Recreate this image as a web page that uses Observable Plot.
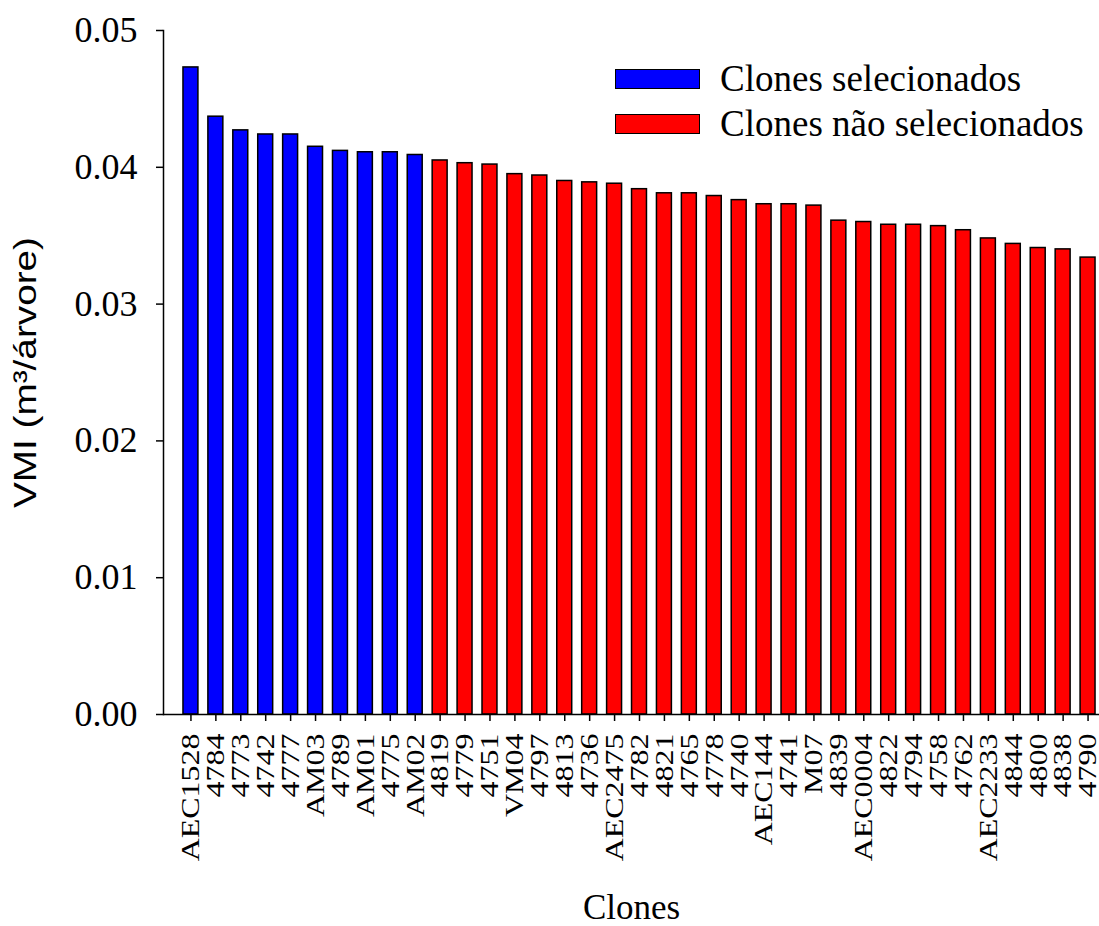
<!DOCTYPE html>
<html>
<head>
<meta charset="utf-8">
<script src="https://cdn.jsdelivr.net/npm/d3@7"></script>
<script src="https://cdn.jsdelivr.net/npm/@observablehq/plot@0.6"></script>
<style>
  html, body { margin: 0; padding: 0; background: #fff; }
  #wrap { position: relative; width: 1099px; height: 926px; overflow: hidden; }
  #legend { position: absolute; left: 615px; top: 56px; font-family: "Liberation Serif", serif; font-size: 37px; color: #000; }
  .row { display: flex; align-items: center; height: 45px; }
  .sw { width: 83px; height: 18px; border: 1.5px solid #000; margin-right: 20px; }
</style>
</head>
<body>
<div id="wrap"><div id="legend"></div></div>
<script>
const clones = ["AEC1528","4784","4773","4742","4777","AM03","4789","AM01","4775","AM02",
  "4819","4779","4751","VM04","4797","4813","4736","AEC2475","4782","4821","4765","4778","4740",
  "AEC144","4741","M07","4839","AEC0004","4822","4794","4758","4762","AEC2233","4844","4800","4838","4790"];
const vmi = [0.0473,0.0437,0.0427,0.0424,0.0424,0.0415,0.0412,0.0411,0.0411,0.0409,
  0.0405,0.0403,0.0402,0.0395,0.0394,0.0390,0.0389,0.0388,0.0384,0.0381,0.0381,0.0379,0.0376,
  0.0373,0.0373,0.0372,0.0361,0.0360,0.0358,0.0358,0.0357,0.0354,0.0348,0.0344,0.0341,0.0340,0.0334];
const selected = ["AEC1528","4784","4773","4742","4777","AM03","4789","AM01","4775","AM02"];
const groups = ["Clones selecionados","Clones não selecionados"];
const groupColors = ["#0000ff","#ff0000"];
const yTicks = [0, 0.01, 0.02, 0.03, 0.04, 0.05];

const data = clones.map((c, i) => ({clone: c, vmi: vmi[i], group: selected.includes(c) ? groups[0] : groups[1]}));

const chart = Plot.plot({
  width: 1099,
  height: 926,
  marginLeft: 163,
  marginRight: 0,
  marginTop: 30,
  marginBottom: 212,
  style: {fontFamily: "'Liberation Serif', serif", color: "#000", background: "transparent", overflow: "visible"},
  x: {domain: clones, range: [173, 1105], padding: 0.4},
  y: {domain: [0, 0.05]},
  color: {domain: groups, range: groupColors},
  marks: [
    Plot.barY(data, {x: "clone", y: "vmi", fill: "group", stroke: "#000", strokeWidth: 1.5}),
    Plot.ruleY([0], {stroke: "#000", strokeWidth: 1.5}),
    Plot.frame({anchor: "left", stroke: "#000", strokeWidth: 1.5}),
    Plot.axisY({ticks: yTicks, tickFormat: d3.format(".2f"), tickSize: 7, tickPadding: 19, fontSize: 36, label: null, strokeWidth: 1.5}),
    Plot.axisY({ticks: [], label: "VMI (m³/árvore)", labelAnchor: "center", labelArrow: "none", labelOffset: 150, fontFamily: "'Liberation Sans', sans-serif", fontSize: 32}),
    Plot.axisX({tickRotate: -90, tickSize: 7, tickPadding: 12, fontSize: 26, label: null, strokeWidth: 1.5}),
    Plot.axisX({ticks: [], label: "Clones", labelAnchor: "center", labelArrow: "none", labelOffset: 204, fontSize: 35})
  ]
});
document.getElementById("wrap").prepend(chart);

// Stretch text along its reading direction to mimic the reference's wide typeface
chart.querySelectorAll('g[aria-label="x-axis tick label"] text').forEach(t => {
  const tr = t.getAttribute("transform") || "";
  t.setAttribute("transform", tr + " scale(1.23,1)");
});
chart.querySelectorAll('g[aria-label="y-axis label"] text').forEach(t => {
  const tr = t.getAttribute("transform") || "";
  t.setAttribute("transform", tr + " scale(1.21,1)");
});

const legend = document.getElementById("legend");
groups.forEach((g, i) => {
  const row = document.createElement("div");
  row.className = "row";
  const sw = document.createElement("div");
  sw.className = "sw";
  sw.style.background = groupColors[i];
  const t = document.createElement("span");
  t.textContent = g;
  row.appendChild(sw);
  row.appendChild(t);
  legend.appendChild(row);
});
</script>
</body>
</html>
